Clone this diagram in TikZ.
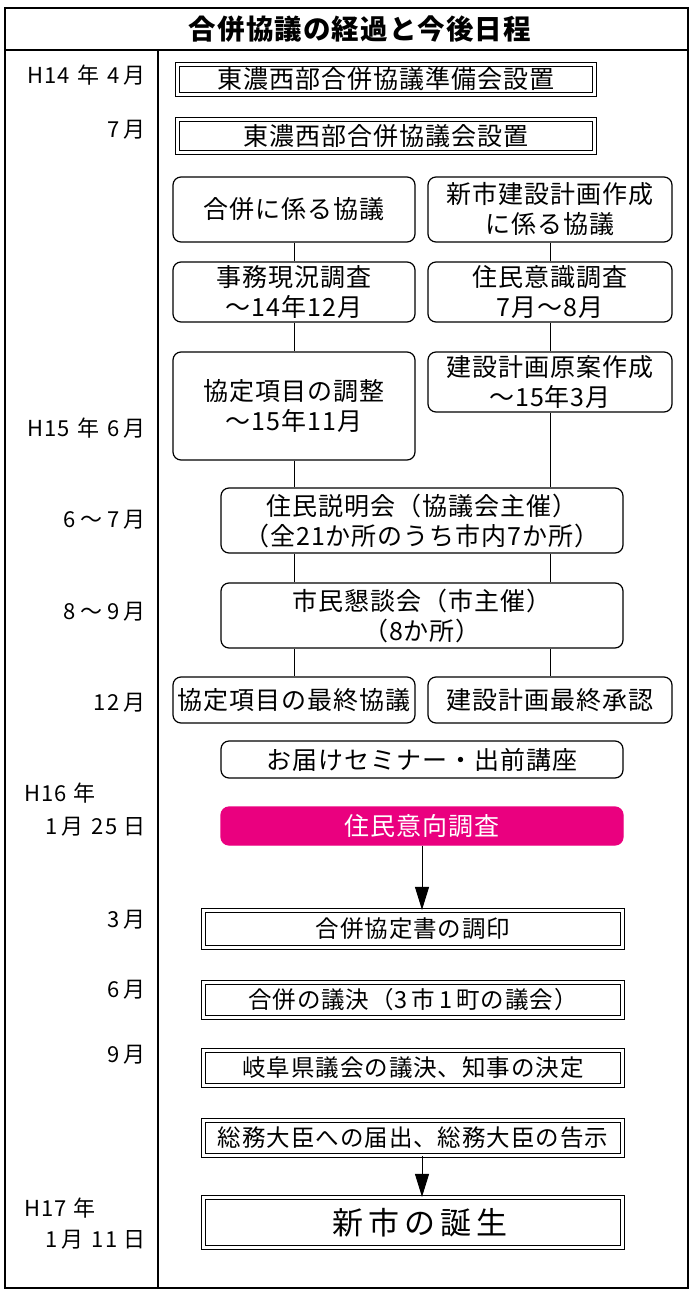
\documentclass[tikz,border=0pt]{standalone}
\usepackage{fontspec}
\setmainfont{Noto Sans CJK JP}[LetterSpace=4]
\usetikzlibrary{arrows.meta}
\definecolor{rosa}{RGB}{234,0,127}
\tikzset{>={Triangle[length=23pt,width=14pt]},
  rbox/.style={draw,rounded corners=8pt,line width=1.2pt,align=center,inner sep=0pt,
    font=\fontsize{25}{30}\selectfont},
  dbox/.style={draw,double,double distance=2.4pt,line width=1.2pt,align=center,inner sep=0pt,
    font=\fontsize{23.5}{26}\selectfont},
  datelbl/.style={anchor=east,inner sep=0pt,font=\fontsize{22}{24}\selectfont},
  link/.style={line width=1pt}}

\begin{document}
\begin{tikzpicture}[x=1pt,y=-1pt]
  \useasboundingbox (0,0) rectangle (691,1292);
  % frame and title
  \draw[line width=2pt] (5,8) rectangle (688,1288);
  \draw[line width=2pt] (5,50) -- (688,50);
  \draw[line width=2pt] (158,50) -- (158,1288);
  \node[font=\bfseries\fontsize{27.5}{30}\selectfont] (title) at (360,29) {合併協議の経過と今後日程};

  % dates
  \node[datelbl] (d1) at (146,75) {H14\hspace{8pt}年\hspace{8pt}4\hspace{4pt}月};
  \node[datelbl] (d2) at (146,130) {7\hspace{4pt}月};
  \node[datelbl] (d3) at (146,428) {H15\hspace{8pt}年\hspace{8pt}6\hspace{4pt}月};
  \node[datelbl] (d4) at (146,520) {6\hspace{5pt}～\hspace{5pt}7\hspace{4pt}月};
  \node[datelbl] (d5) at (146,612) {8\hspace{5pt}～\hspace{5pt}9\hspace{4pt}月};
  \node[datelbl] (d6) at (146,703) {1\hspace{2pt}2\hspace{4pt}月};
  \node[datelbl,anchor=west] (d7) at (24,793) {H16\hspace{7pt}年};
  \node[datelbl] (d8) at (146,827) {1\hspace{4pt}月\hspace{8pt}2\hspace{2pt}5\hspace{6pt}日};
  \node[datelbl] (d9) at (146,920) {3\hspace{4pt}月};
  \node[datelbl] (d10) at (146,990) {6\hspace{4pt}月};
  \node[datelbl] (d11) at (146,1055) {9\hspace{4pt}月};
  \node[datelbl,anchor=west] (d12) at (24,1208) {H17\hspace{7pt}年};
  \node[datelbl] (d13) at (146,1240) {1\hspace{4pt}月\hspace{8pt}1\hspace{2pt}1\hspace{6pt}日};

  % council
  \node[dbox,font=\fontsize{25}{28}\selectfont,minimum width=417pt,minimum height=30pt] (B1) at (386,79.5) {東濃西部合併協議準備会設置};
  \node[dbox,font=\fontsize{25}{28}\selectfont,minimum width=417pt,minimum height=33pt] (B2) at (386,136) {東濃西部合併協議会設置};

  % two columns
  \node[rbox,minimum width=242pt,minimum height=65pt] (R1) at (294,209.5) {合併に係る協議};
  \node[rbox,minimum width=244pt,minimum height=65pt] (R2) at (550,209.5) {新市建設計画作成\\に係る協議};
  \node[rbox,minimum width=242pt,minimum height=60pt] (R3) at (294,292) {事務現況調査\\～14年12月};
  \node[rbox,minimum width=244pt,minimum height=60pt] (R4) at (550,292) {住民意識調査\\7月～8月};
  \node[rbox,minimum width=242pt,minimum height=108pt] (R5) at (294,406) {協定項目の調整\\～15年11月};
  \node[rbox,minimum width=244pt,minimum height=60pt] (R6) at (550,382) {建設計画原案作成\\～15年3月};
  \node[rbox,minimum width=402pt,minimum height=65pt] (R7) at (422,520.5) {住民説明会（協議会主催）\\（全21か所のうち市内7か所）};
  \node[rbox,minimum width=402pt,minimum height=65pt] (R8) at (422,615.5) {市民懇談会（市主催）\\（8か所）};
  \node[rbox,minimum width=242pt,minimum height=46pt] (R9) at (294,700) {協定項目の最終協議};
  \node[rbox,minimum width=244pt,minimum height=46pt] (R10) at (550,700) {建設計画最終承認};
  \node[rbox,minimum width=402pt,minimum height=37pt] (R11) at (422,759.5) {お届けセミナー・出前講座};
  \node[rbox,draw=rosa,fill=rosa,text=white,minimum width=402pt,minimum height=38pt] (R12) at (422,826) {住民意向調査};

  % after the survey
  \node[dbox,minimum width=419pt,minimum height=37pt] (D1) at (413,929) {合併協定書の調印};
  \node[dbox,minimum width=419pt,minimum height=35pt] (D2) at (413,1000) {合併の議決（3\hspace{4pt}市\hspace{4pt}1\hspace{4pt}町の議会）};
  \node[dbox,minimum width=419pt,minimum height=35pt] (D3) at (413,1068) {岐阜県議会の議決、知事の決定};
  \node[dbox,minimum width=419pt,minimum height=35pt] (D4) at (413,1138) {総務大臣への届出、総務大臣の告示};
  \node[dbox,minimum width=419pt,minimum height=50pt,font=\fontsize{31}{34}\selectfont] (D5) at (413,1222.5) {\hspace{14pt}新\hspace{5pt}市\hspace{5pt}の\hspace{5pt}誕\hspace{5pt}生};

  % connectors
  \draw[link] (R1) -- (R3);
  \draw[link] (R3) -- (R5);
  \draw[link] (R5.south) -- (R5.south |- R7.north);
  \draw[link] (R2) -- (R4);
  \draw[link] (R4) -- (R6);
  \draw[link] (R6.south) -- (R6.south |- R7.north);
  \draw[link] (R7.south -| R5.south) -- (R8.north -| R5.south);
  \draw[link] (R7.south -| R6.south) -- (R8.north -| R6.south);
  \draw[link] (R8.south -| R9.north) -- (R9.north);
  \draw[link] (R8.south -| R10.north) -- (R10.north);
  \draw[link,->] (R12.south) -- (R12.south |- D1.north);
  \draw[link,->] (D4.south -| R12.south) -- (D5.north -| R12.south);
\end{tikzpicture}
\end{document}
